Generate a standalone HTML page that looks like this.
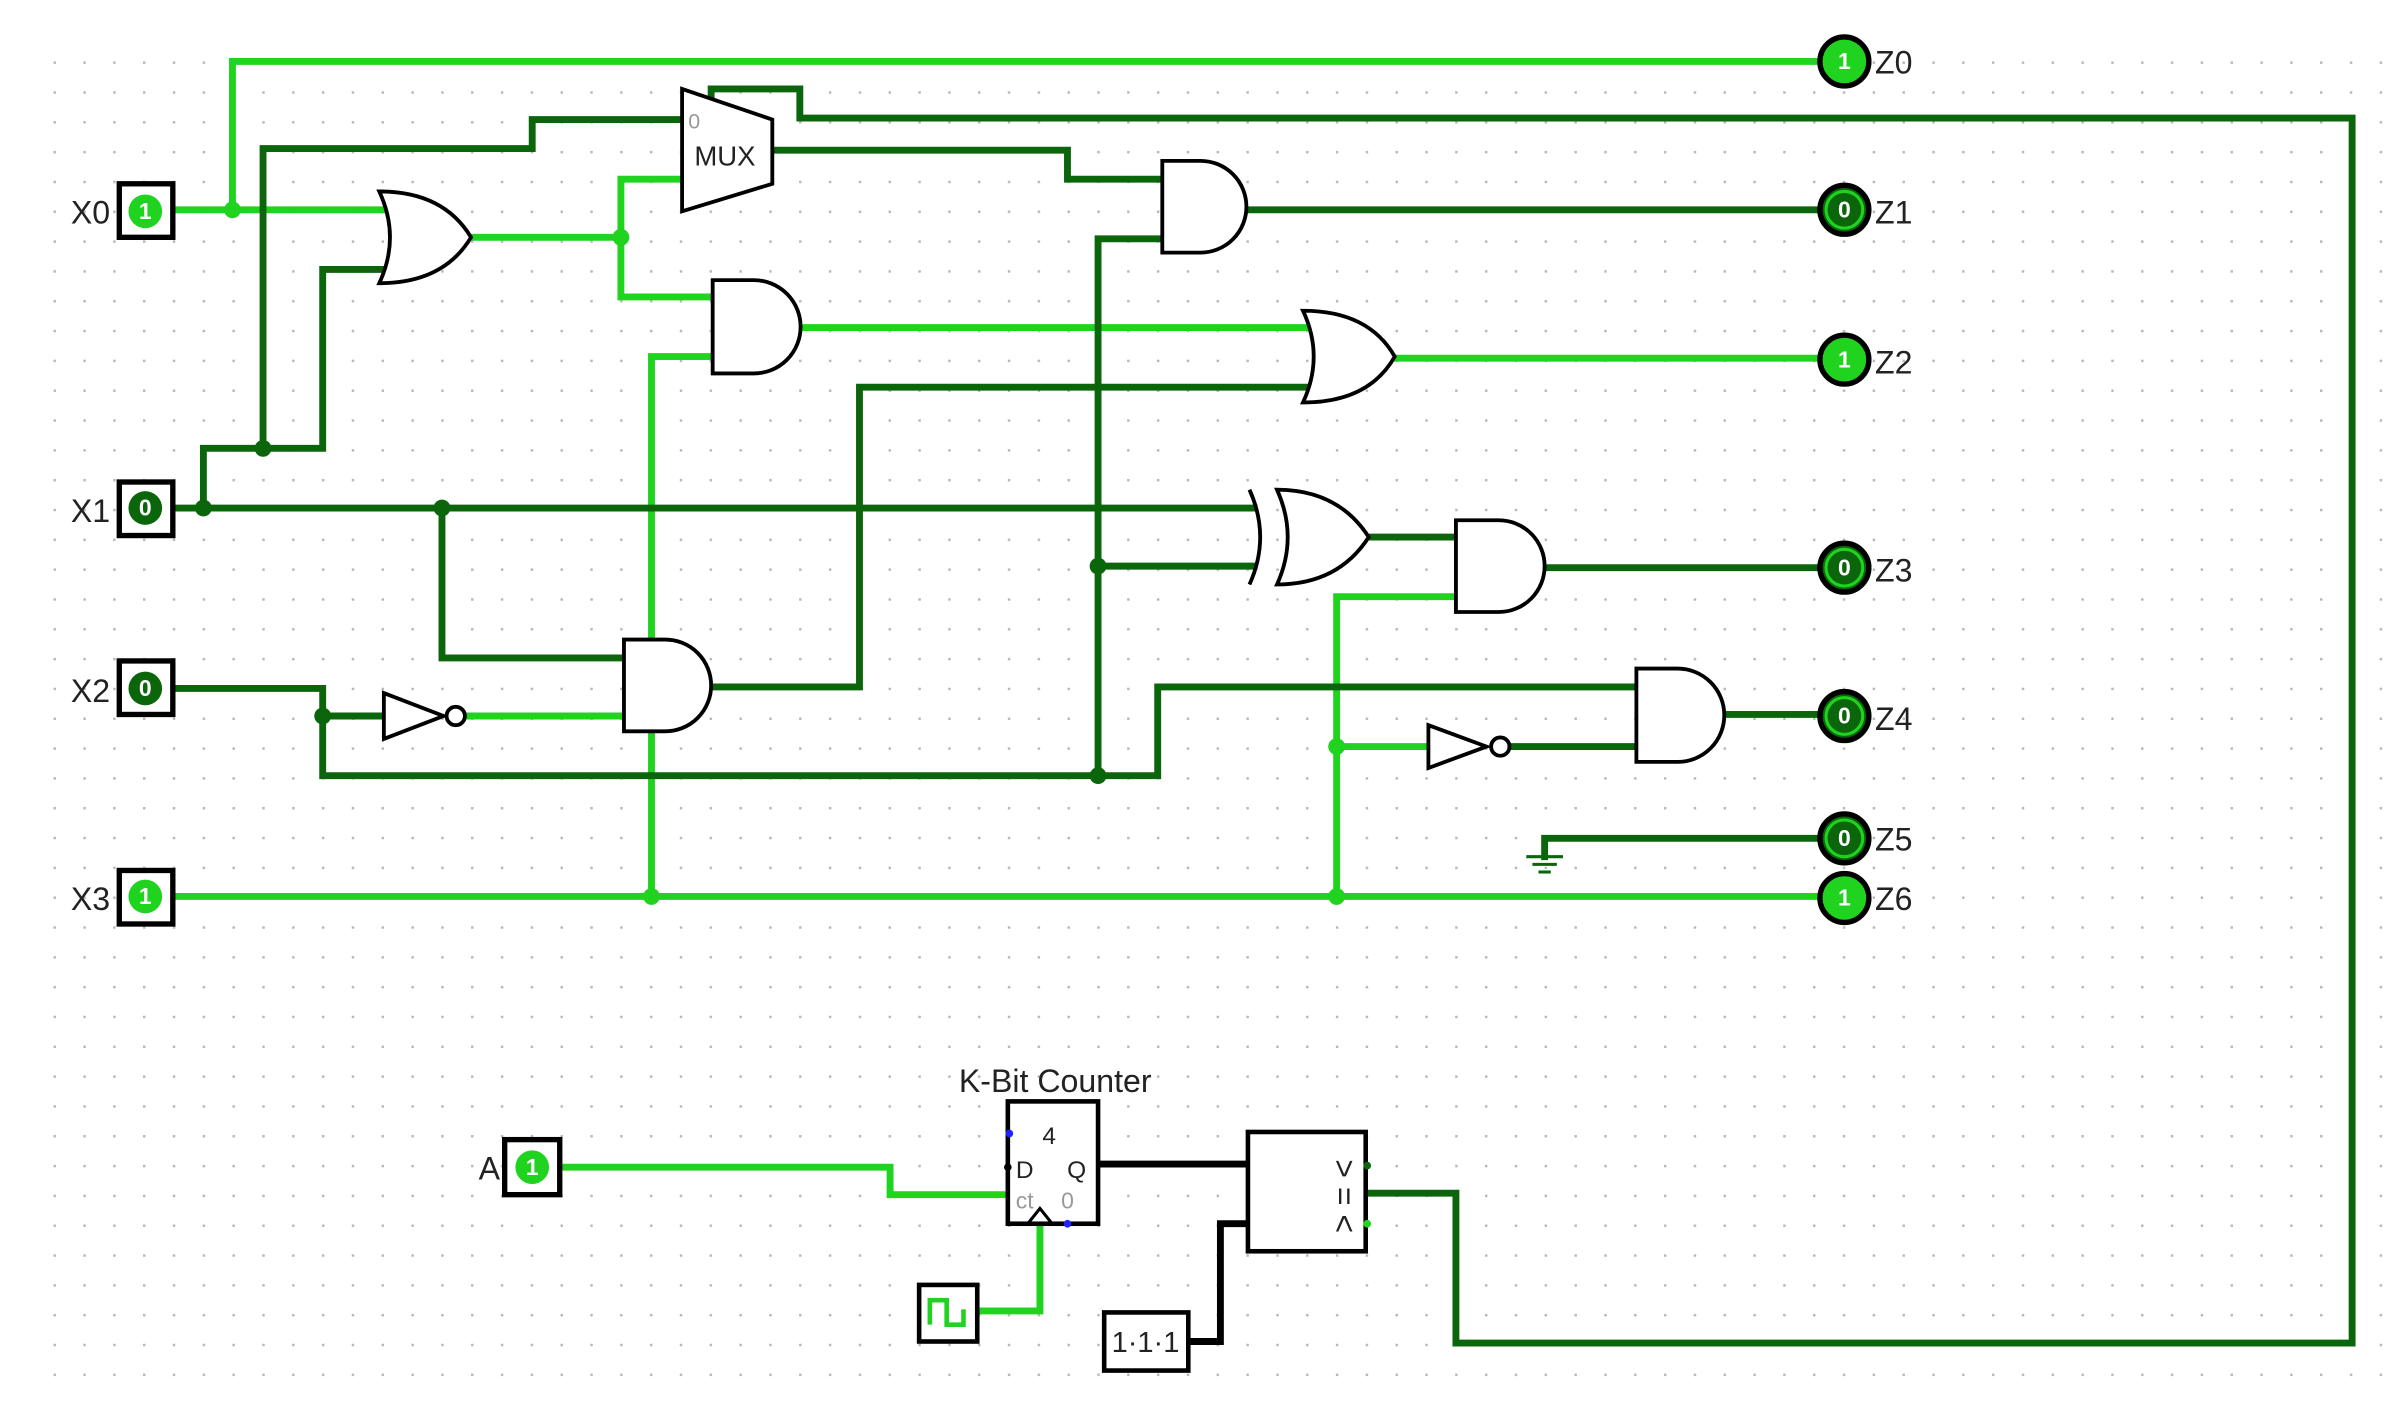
<!DOCTYPE html>
<html><head><meta charset="utf-8"><style>
html,body{margin:0;padding:0;background:#fff;}
svg{display:block;}
text{font-family:"Liberation Sans",sans-serif;}
</style></head><body>
<svg width="2398" height="1406" viewBox="0 0 1568 919" xmlns="http://www.w3.org/2000/svg">
<defs>
<pattern id="g" x="35" y="40" width="19.5" height="19.5" patternUnits="userSpaceOnUse">
<rect x="0" y="0" width="1.6" height="1.6" fill="#b8b8b8"/>
</pattern>
</defs>
<rect x="0" y="0" width="1568" height="919" fill="#fff"/>
<rect x="34" y="39" width="1525" height="865" fill="url(#g)"/>

<g fill="none" stroke-width="4.5" stroke-linejoin="miter" stroke-linecap="square">
<g stroke="#1fd31f">
<polyline points="113,137 250,137"/>
<polyline points="152,137 152,40 1188,40"/>
<polyline points="307,155 406,155"/>
<polyline points="406,155 406,117 446,117"/>
<polyline points="406,155 406,194 466,194"/>
<polyline points="523,214 858,214"/>
<polyline points="912,234 1188,234"/>
<polyline points="113,586 1188,586"/>
<polyline points="426,586 426,233 466,233"/>
<polyline points="874,586 874,390 952,390"/>
<polyline points="874,488 934,488"/>
<polyline points="305,468 408,468"/>
<polyline points="366,763 582,763 582,781 660,781"/>
<polyline points="640,857 680,857 680,797"/>
</g>
<g stroke="#0b650b">
<polyline points="113,332 820,332"/>
<polyline points="133,332 133,293 211,293 211,176 250,176"/>
<polyline points="172,293 172,97 348,97 348,78 446,78"/>
<polyline points="289,332 289,430 408,430"/>
<polyline points="465,449 562,449 562,253 858,253"/>
<polyline points="113,450 211,450 211,507 757,507 757,449 1070,449"/>
<polyline points="211,468 251,468"/>
<polyline points="718,507 718,156 760,156"/>
<polyline points="718,370 820,370"/>
<polyline points="505,98 698,98 698,117 760,117"/>
<polyline points="465,62 465,58 523,58 523,77 1538,77 1538,878 952,878 952,780 895,780"/>
<polyline points="815,137 1188,137"/>
<polyline points="895,351 952,351"/>
<polyline points="1010,371 1188,371"/>
<polyline points="990,488 1070,488"/>
<polyline points="1127,467 1188,467"/>
<polyline points="1010,560 1010,548 1188,548"/>
</g>
<g stroke="#000">
<polyline points="718,761 816,761"/>
<polyline points="777,877 798,877 798,800 816,800"/>
</g>
</g>

<g fill="#1fd31f">
<circle cx="152" cy="137" r="5.5"/><circle cx="406" cy="155" r="5.5"/>
<circle cx="426" cy="586" r="5.5"/><circle cx="874" cy="586" r="5.5"/><circle cx="874" cy="488" r="5.5"/>
</g>
<g fill="#0b650b">
<circle cx="133" cy="332" r="5.5"/><circle cx="172" cy="293" r="5.5"/><circle cx="289" cy="332" r="5.5"/>
<circle cx="211" cy="468" r="5.5"/><circle cx="718" cy="507" r="5.5"/><circle cx="718" cy="370" r="5.5"/>
</g>

<g fill="#fff" stroke="#000" stroke-width="2.5">
<path d="M248,125 Q290,125 308,155 Q290,185 248,185 Q262,155 248,125 Z"/>
<path d="M446,58 L505,78 L505,120 L446,138 Z"/>
<path d="M466,183 L493,183 A30,30 0 0 1 493,244 L466,244 Z"/>
<path d="M760,105 L785,105 A30,30 0 0 1 785,165 L760,165 Z"/>
<path d="M852,203 Q895,203 912,233 Q895,263 852,263 Q866,233 852,203 Z"/>
<path d="M835,320 Q875,320 895,351 Q875,382 835,382 Q849,351 835,320 Z"/>
<path d="M817,320 Q831,351 817,382" fill="none"/>
<path d="M952,340 L980,340 A30,30 0 0 1 980,400 L952,400 Z"/>
<path d="M408,418 L435,418 A30,30 0 0 1 435,478 L408,478 Z"/>
<path d="M1070,437 L1097,437 A30,30 0 0 1 1097,498 L1070,498 Z"/>
<path d="M251,453 L251,483 L290,468 Z"/>
<circle cx="298" cy="468" r="6"/>
<path d="M934,474 L934,502 L972,488 Z"/>
<circle cx="981" cy="488" r="6"/>
</g>
<text x="474" y="108" font-size="18" text-anchor="middle" fill="#222">MUX</text>
<text x="450" y="84" font-size="14" fill="#999">0</text>

<g stroke="#0b650b" stroke-width="2">
<line x1="998" y1="560" x2="1022" y2="560"/><line x1="1002" y1="565" x2="1018" y2="565"/><line x1="1006" y1="570" x2="1014" y2="570"/>
</g>

<g stroke="#000" stroke-width="3.5" fill="#fff">
<rect x="78" y="120" width="35" height="35"/>
<rect x="78" y="315" width="35" height="35"/>
<rect x="78" y="432" width="35" height="35"/>
<rect x="78" y="569" width="35" height="35"/>
<rect x="330" y="745" width="36" height="36"/>
</g>
<g>
<circle cx="95" cy="138" r="11" fill="#1fd31f"/>
<circle cx="95" cy="332" r="11" fill="#0b650b"/>
<circle cx="95" cy="450" r="11" fill="#0b650b"/>
<circle cx="95" cy="586" r="11" fill="#1fd31f"/>
<circle cx="348" cy="763" r="11" fill="#1fd31f"/>
</g>
<g font-size="15" font-weight="bold" fill="#fff" text-anchor="middle">
<text x="95" y="143">1</text><text x="95" y="337">0</text><text x="95" y="455">0</text>
<text x="95" y="591">1</text><text x="348" y="768">1</text>
</g>
<g font-size="21" fill="#222" text-anchor="end">
<text x="72" y="146">X0</text><text x="72" y="341">X1</text><text x="72" y="459">X2</text>
<text x="72" y="595">X3</text><text x="327" y="771">A</text>
</g>

<g stroke="#000" stroke-width="3.5">
<circle cx="1206" cy="40" r="16" fill="#1fd31f"/>
<circle cx="1206" cy="137" r="16" fill="#0b650b"/>
<circle cx="1206" cy="235" r="16" fill="#1fd31f"/>
<circle cx="1206" cy="371" r="16" fill="#0b650b"/>
<circle cx="1206" cy="468" r="16" fill="#0b650b"/>
<circle cx="1206" cy="548" r="16" fill="#0b650b"/>
<circle cx="1206" cy="587" r="16" fill="#1fd31f"/>
</g>
<g fill="none" stroke="#1fd31f" stroke-width="2">
<circle cx="1206" cy="137" r="12"/><circle cx="1206" cy="371" r="12"/>
<circle cx="1206" cy="468" r="12"/><circle cx="1206" cy="548" r="12"/>
</g>
<g font-size="15" font-weight="bold" fill="#fff" text-anchor="middle">
<text x="1206" y="45">1</text><text x="1206" y="142">0</text><text x="1206" y="240">1</text>
<text x="1206" y="376">0</text><text x="1206" y="473">0</text><text x="1206" y="553">0</text><text x="1206" y="592">1</text>
</g>
<g font-size="21" fill="#222">
<text x="1226" y="48">Z0</text><text x="1226" y="146">Z1</text><text x="1226" y="244">Z2</text>
<text x="1226" y="380">Z3</text><text x="1226" y="477">Z4</text><text x="1226" y="556">Z5</text><text x="1226" y="595">Z6</text>
</g>

<text x="690" y="714" font-size="21" text-anchor="middle" fill="#222">K-Bit Counter</text>
<rect x="659" y="720" width="59" height="80" fill="#fff" stroke="#000" stroke-width="3"/>
<path d="M672,800 L680,790 L688,800" fill="none" stroke="#000" stroke-width="2"/>
<text x="686" y="748" font-size="16" text-anchor="middle" fill="#222">4</text>
<text x="670" y="770" font-size="16" text-anchor="middle" fill="#222">D</text>
<text x="704" y="770" font-size="16" text-anchor="middle" fill="#222">Q</text>
<text x="670" y="790" font-size="15" text-anchor="middle" fill="#999">ct</text>
<text x="698" y="790" font-size="15" text-anchor="middle" fill="#999">0</text>
<circle cx="660" cy="741" r="2.5" fill="#22f"/><circle cx="698" cy="800" r="2.5" fill="#22f"/>
<circle cx="659" cy="763" r="2.5" fill="#000"/>

<rect x="816" y="740" width="77" height="78" fill="#fff" stroke="#000" stroke-width="3"/>
<g font-size="21" fill="#222" text-anchor="middle">
<text transform="translate(879,764) rotate(90)" y="7">&gt;</text>
<text transform="translate(879,782) rotate(90)" y="7">=</text>
<text transform="translate(879,800) rotate(90)" y="7">&lt;</text>
</g>
<circle cx="894" cy="762" r="2.5" fill="#0b650b"/><circle cx="894" cy="800" r="2.5" fill="#1fd31f"/>

<rect x="601" y="840" width="38" height="37" fill="#fff" stroke="#000" stroke-width="3"/>
<polyline points="608,866 608,850 619,850 619,866 630,866 630,856" fill="none" stroke="#1fd31f" stroke-width="3"/>

<rect x="722" y="858" width="55" height="38" fill="#fff" stroke="#000" stroke-width="3"/>
<text x="749" y="884" font-size="19" text-anchor="middle" fill="#222">1·1·1</text>
</svg>
</body></html>
